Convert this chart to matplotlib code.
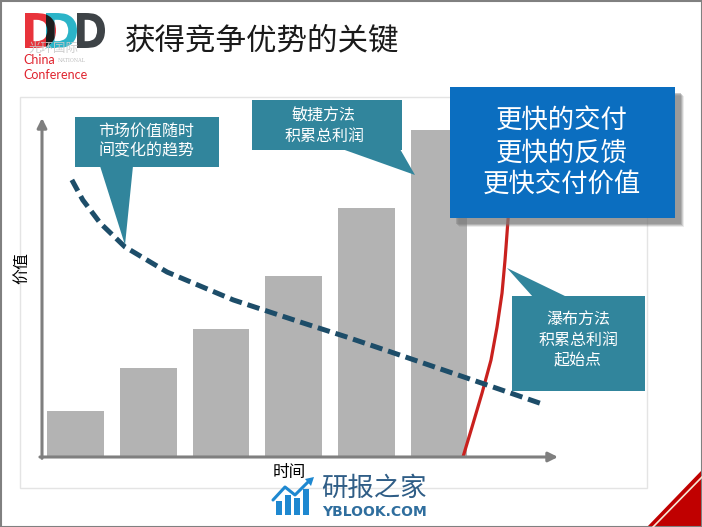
import matplotlib
matplotlib.use('Agg')
import matplotlib.pyplot as plt
from matplotlib.patches import Rectangle, Polygon, PathPatch
from matplotlib.textpath import TextPath
from matplotlib.font_manager import FontProperties
from matplotlib.transforms import Affine2D

plt.rcParams['font.family'] = ['Noto Sans CJK SC', 'DejaVu Sans']

# ---------------- data ----------------
time_pos = [1, 2, 3, 4, 5, 6]
bar_values = [13.5, 26.2, 37.6, 53.2, 73.2, 96.2]
trend_t = [0.95, 1.10, 1.34, 1.68, 2.26, 3.17, 4.09, 4.73, 5.46, 6.66, 7.46]
trend_v = [81.5, 75.6, 68.8, 61.8, 54.4, 46.2, 39.7, 35.3, 30.0, 21.2, 15.3]
waterfall_t = [6.330, 6.454, 6.592, 6.715, 6.798, 6.867, 6.908, 6.922, 6.949, 6.977]
waterfall_v = [0.0, 8.8, 18.8, 28.5, 38.2, 48.2, 57.9, 61.8, 69.7, 78.5]

title = '获得竞争优势的关键'
x_label = '时间'
y_label = '价值'
callout_market = ['市场价值随时', '间变化的趋势']
callout_agile = ['敏捷方法', '积累总利润']
callout_waterfall = ['瀑布方法', '积累总利润', '起始点']
key_points = ['更快的交付', '更快的反馈', '更快交付价值']

W, H = 702, 527
fig = plt.figure(figsize=(W / 100, H / 100), dpi=100)
fig.patch.set_facecolor('white')

# background (pixel coordinates, y down)
bg = fig.add_axes([0, 0, 1, 1], zorder=0)
bg.set_xlim(0, W)
bg.set_ylim(H, 0)
bg.axis('off')

# slide panel
bg.add_patch(Rectangle((20, 97), 627, 391, facecolor='white', edgecolor='#E4E4E4', lw=1))

# title
bg.text(125, 41, title, fontsize=22, color='#1A1A1A', ha='left', va='center', fontweight='light')

# logo D D D
fp = FontProperties(family='DejaVu Sans', weight='bold')
def d_patch(x0, x1, y0, y1, color, **kw):
    tp = TextPath((0, 0), 'D', prop=fp, size=1)
    ext = tp.get_extents()
    sx = (x1 - x0) / ext.width
    sy = (y1 - y0) / ext.height
    tr = Affine2D().translate(-ext.x0, -ext.y0).scale(sx, -sy).translate(x0, y1)
    path = tr.transform_path(tp)
    p = PathPatch(path, facecolor=color, edgecolor='none', **kw)
    bg.add_patch(p)
    return p

red_d = d_patch(25, 56, 13, 48, '#E8333B')
teal_d = d_patch(46, 77, 13, 48, '#2BB4C8')
over = d_patch(25, 56, 13, 48, '#1E1E1E')
over.set_clip_path(teal_d)
d_patch(77, 105, 13, 48, '#3E4347')
bg.text(54, 48, '光环国际', fontsize=9, color='#C9C9C9', ha='center', va='center', alpha=0.9)
bg.text(58, 61, 'NATIONAL', fontsize=3.5, color='#BDBDBD', ha='left', va='center', family='DejaVu Serif')
bg.text(23, 60, 'China', fontsize=9, color='#E0242F', ha='left', va='center', family='Lato')
bg.text(23, 75, 'Conference', fontsize=9, color='#E0242F', ha='left', va='center', family='Lato')

# axis labels
bg.text(22, 268, y_label, fontsize=11.5, rotation=90, ha='center', va='center', color='black')
bg.text(289, 473, x_label, fontsize=12, ha='center', va='center', color='black')

# watermark
bg.text(374, 488, '研报之家', fontsize=19, color='#2F5D86', ha='center', va='center')
bg.text(374, 512, 'YBLOOK.COM', fontsize=10, color='#2F6E9E', ha='center', va='center',
        family='DejaVu Sans', fontweight='bold')
icon_c = '#1E88D0'
for bx, bh in zip([276, 285, 294, 303], [14, 20, 17, 26]):
    bg.add_patch(Rectangle((bx, 515 - bh), 6, bh, facecolor=icon_c, edgecolor='none'))
bg.plot([273, 285, 295, 309], [500, 487, 495, 481], color=icon_c, lw=2.2, solid_capstyle='round')
bg.add_patch(Polygon([[305, 479], [314, 477], [311, 486]], closed=True, facecolor=icon_c, edgecolor='none'))

# red corner
bg.add_patch(Polygon([[647, 527], [702, 470], [702, 527]], closed=True, facecolor='#C00000', edgecolor='none'))
bg.plot([653, 702], [527, 477], color='#F6E7D5', lw=1.2)

# slide border
bg.add_patch(Rectangle((0.5, 0.5), W - 1, H - 1, facecolor='none', edgecolor='#808080', lw=1.5))

# ---------------- chart axes ----------------
ax = fig.add_axes([42 / W, (H - 457) / H, 516 / W, 339 / H], zorder=1)
ax.patch.set_alpha(0)
ax.set_xlim(0.5392, 7.6369)
ax.set_ylim(0, 99.71)
for s in ax.spines.values():
    s.set_visible(False)
ax.set_xticks([])
ax.set_yticks([])

ax.bar(time_pos, bar_values, width=0.78, color='#B3B3B3', zorder=1)
ax.plot(trend_t, trend_v, color='#1D4D69', lw=3.6, ls=(0, (2.5, 1.2)), zorder=3)
ax.plot(waterfall_t, waterfall_v, color='#C9211E', lw=2.3, zorder=2, solid_capstyle='butt')

arrow_kw = dict(arrowstyle='-|>', color='#7F7F7F', lw=2.2, mutation_scale=14, shrinkA=0, shrinkB=0)
ax.annotate('', xy=(1, 0), xytext=(-0.004, 0), xycoords='axes fraction', arrowprops=arrow_kw, annotation_clip=False)
ax.annotate('', xy=(0, 1), xytext=(0, -0.004), xycoords='axes fraction', arrowprops=arrow_kw, annotation_clip=False)

# ---------------- foreground callouts ----------------
fg = fig.add_axes([0, 0, 1, 1], zorder=2)
fg.set_xlim(0, W)
fg.set_ylim(H, 0)
fg.axis('off')
fg.patch.set_alpha(0)

teal = '#31859C'
# callout 1
fg.add_patch(Rectangle((75, 117), 144, 50, facecolor=teal, edgecolor='none'))
fg.add_patch(Polygon([[100, 166], [133, 166], [125, 245]], closed=True, facecolor=teal, edgecolor='none'))
for yy, s in zip([131, 151], callout_market):
    fg.text(146, yy, s, fontsize=11.5, color='white', ha='center', va='center')

# callout 2
fg.add_patch(Rectangle((252, 100), 150, 50, facecolor=teal, edgecolor='none'))
fg.add_patch(Polygon([[342, 149], [400, 149], [415, 175]], closed=True, facecolor=teal, edgecolor='none'))
for yy, s in zip([116, 136], callout_agile):
    fg.text(324, yy, s, fontsize=11.5, color='white', ha='center', va='center')

# callout 3
fg.add_patch(Rectangle((512, 296), 133, 95, facecolor=teal, edgecolor='none'))
fg.add_patch(Polygon([[533, 297], [567, 297], [507, 268]], closed=True, facecolor=teal, edgecolor='none'))
for yy, s in zip([320, 340, 360], callout_waterfall):
    fg.text(578, yy, s, fontsize=11.5, color='white', ha='center', va='center')

# blue key box with soft shadow
for off, a in [(9, 0.15), (8, 0.25), (7, 0.35), (6, 0.4)]:
    fg.add_patch(Rectangle((450 + off, 87 + off), 225, 131, facecolor='#7A7A7A', edgecolor='none', alpha=a))
fg.add_patch(Rectangle((450, 87), 225, 131, facecolor='#0B6EC0', edgecolor='none'))
for yy, s in zip([121, 153, 185], key_points):
    fg.text(562, yy, s, fontsize=19, color='white', ha='center', va='center')

fig.savefig('out.png', dpi=100, facecolor='white')
